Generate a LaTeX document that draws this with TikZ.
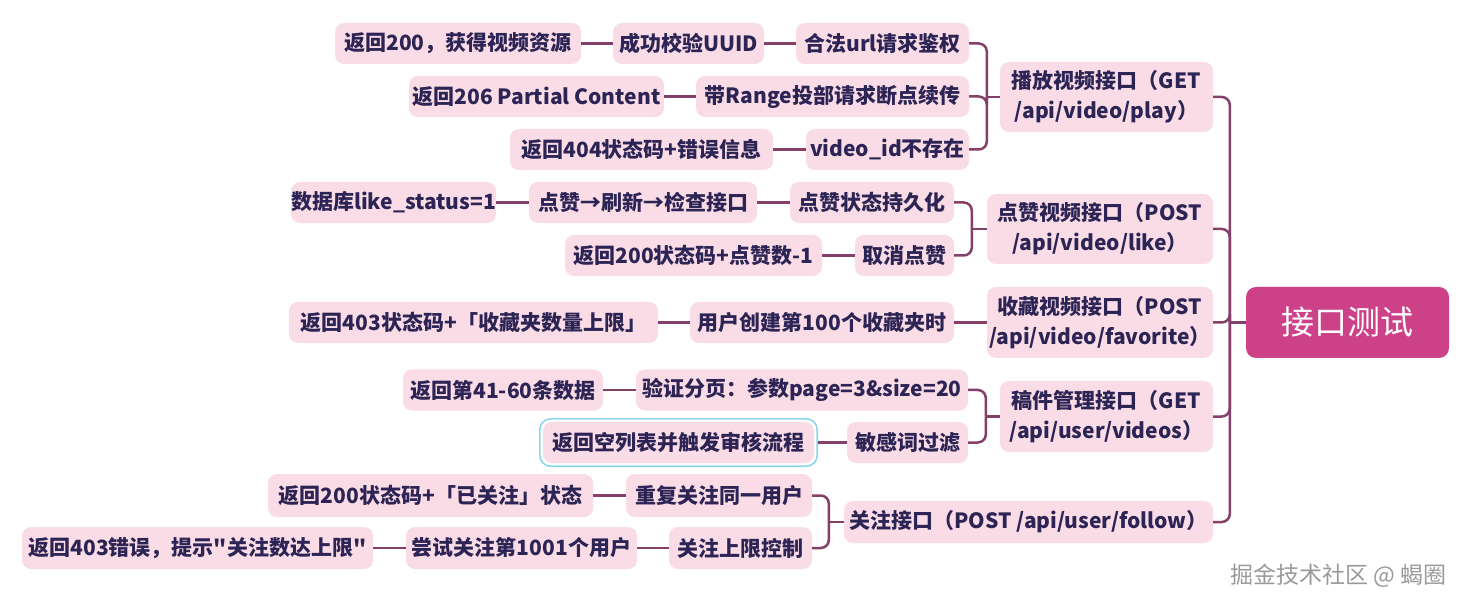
\documentclass[tikz,border=0pt]{standalone}
\usepackage{fontspec}
\setmainfont{Noto Sans CJK SC}
\newfontfamily\plainq{Noto Sans CJK SC}
\newcommand{\sq}{{\plainq\char"22}}
\usetikzlibrary{fit}
\definecolor{nodepink}{HTML}{FADCE6}
\definecolor{navy}{HTML}{2B2454}
\definecolor{rootpink}{HTML}{CD4189}
\definecolor{linec}{HTML}{85406A}
\definecolor{hlblue}{HTML}{8ED6EE}
\definecolor{wmgray}{HTML}{9A9A9A}
\tikzset{
  leaf/.style={rectangle, rounded corners=9pt, fill=nodepink, text=navy,
    font=\fontsize{21pt}{30pt}\selectfont\bfseries, inner sep=0pt,
    minimum height=41pt, align=center},
  topic/.style={leaf, minimum height=70pt},
  rootbox/.style={rectangle, rounded corners=10pt, fill=rootpink, text=white,
    font=\fontsize{33pt}{36pt}\selectfont, inner sep=0pt,
    minimum width=203pt, minimum height=71pt},
  conn/.style={draw=linec, line width=2.5pt, rounded corners=8pt},
  hlbox/.style={draw=hlblue, line width=1.6pt, rounded corners=11pt, inner sep=3pt},
  wmark/.style={text=wmgray, font=\fontsize{23pt}{26pt}\selectfont, inner sep=0pt}
}
\begin{document}
\begin{tikzpicture}[x=1pt,y=-1pt]
\useasboundingbox[fill=white] (0,0) rectangle (1475,609);

% root
\node[rootbox] (root) at (1347.5,322.5) {接口测试};

% level 1
\node[topic, minimum width=213pt] (P1) at (1106.5,97) {播放视频接口（GET\\/api/video/play）};
\node[topic, minimum width=226pt] (P2) at (1100,229) {点赞视频接口（POST\\/api/video/like）};
\node[topic, minimum width=226pt, minimum height=71pt] (P3) at (1100,322.5) {收藏视频接口（POST\\/api/video/favorite）};
\node[topic, minimum width=213pt, minimum height=71pt] (P4) at (1106.5,416.5) {稿件管理接口（GET\\/api/user/videos）};
\node[leaf, minimum width=369pt, minimum height=42pt] (P5) at (1028.5,522) {关注接口（POST /api/user/follow）};

% play group
\node[leaf, minimum width=173pt] (a1) at (882.5,43.5) {合法url请求鉴权};
\node[leaf, minimum width=151pt] (a1a) at (688.5,43.5) {成功校验UUID};
\node[leaf, minimum width=246pt] (a1b) at (458,43.5) {返回200，获得视频资源};
\node[leaf, minimum width=273pt] (a2) at (832.5,96.5) {带Range投部请求断点续传};
\node[leaf, minimum width=255pt] (a2a) at (536.5,96.5) {返回206 Partial Content};
\node[leaf, minimum width=163pt] (a3) at (887.5,149.5) {video\_id不存在};
\node[leaf, minimum width=263pt] (a3a) at (641.5,149.5) {返回404状态码+错误信息};

% like group
\node[leaf, minimum width=164pt] (b1) at (872,202.5) {点赞状态持久化};
\node[leaf, minimum width=228pt] (b1a) at (643,202.5) {点赞→刷新→检查接口};
\node[leaf, minimum width=205pt] (b1b) at (393.5,202.5) {数据库like\_status=1};
\node[leaf, minimum width=99pt] (b2) at (904.5,255.5) {取消点赞};
\node[leaf, minimum width=257pt] (b2a) at (693.5,255.5) {返回200状态码+点赞数-1};

% favorite group
\node[leaf, minimum width=264pt] (c1) at (822,322.5) {用户创建第100个收藏夹时};
\node[leaf, minimum width=369pt] (c1a) at (473.5,322.5) {返回403状态码+「收藏夹数量上限」};

% manuscript group
\node[leaf, minimum width=332pt] (d1) at (802,390) {验证分页：参数page=3\&size=20};
\node[leaf, minimum width=200pt] (d1a) at (503,390) {返回第41-60条数据};
\node[leaf, minimum width=121pt] (d2) at (907.5,442.5) {敏感词过滤};
\node[leaf, minimum width=271pt] (d2a) at (678.5,442.5) {返回空列表并触发审核流程};
\node[hlbox, fit=(d2a)] (d2ahl) {};

% follow group
\node[leaf, minimum width=186pt, minimum height=43pt] (e1) at (719,495.5) {重复关注同一用户};
\node[leaf, minimum width=325pt, minimum height=43pt] (e1a) at (430.5,495.5) {返回200状态码+「已关注」状态};
\node[leaf, minimum width=143pt, minimum height=42pt] (e2) at (740.5,548) {关注上限控制};
\node[leaf, minimum width=231pt, minimum height=42pt] (e2a) at (521.5,548) {尝试关注第1001个用户};
\node[leaf, minimum width=351pt, minimum height=42pt] (e2b) at (197.5,548) {返回403错误，提示\sq 关注数达上限\sq};

% watermark
\node[wmark] (wm) at (1338.5,575.5) {掘金技术社区 @ 蝎圈};

% root trunk
\draw[conn] (root.west) -- ([xshift=-16pt]root.west);
\foreach \p in {P1,P2,P3,P4,P5}
  \draw[conn] ([xshift=-16pt]root.west) |- (\p.east);

% play brackets
\draw[conn] (P1.west) -- ([xshift=-13pt]P1.west);
\foreach \c in {a1,a2,a3}
  \draw[conn] ([xshift=-13pt]P1.west) |- (\c.east);
\draw[conn] (a1.west) -- (a1a.east);
\draw[conn] (a1a.west) -- (a1b.east);
\draw[conn] (a2.west) -- (a2a.east);
\draw[conn] (a3.west) -- (a3a.east);

% like brackets
\draw[conn] (P2.west) -- ([xshift=-15pt]P2.west);
\foreach \c in {b1,b2}
  \draw[conn] ([xshift=-15pt]P2.west) |- (\c.east);
\draw[conn] (b1.west) -- (b1a.east);
\draw[conn] (b1a.west) -- (b1b.east);
\draw[conn] (b2.west) -- (b2a.east);

% favorite
\draw[conn] (P3.west) -- (c1.east);
\draw[conn] (c1.west) -- (c1a.east);

% manuscript brackets
\draw[conn] (P4.west) -- ([xshift=-14pt]P4.west);
\foreach \c in {d1,d2}
  \draw[conn] ([xshift=-14pt]P4.west) |- (\c.east);
\draw[conn] (d1.west) -- (d1a.east);
\draw[conn] (d2.west) -- (d2ahl.east);

% follow brackets
\draw[conn] (P5.west) -- ([xshift=-15pt]P5.west);
\foreach \c in {e1,e2}
  \draw[conn] ([xshift=-15pt]P5.west) |- (\c.east);
\draw[conn] (e1.west) -- (e1a.east);
\draw[conn] (e2.west) -- (e2a.east);
\draw[conn] (e2a.west) -- (e2b.east);
\end{tikzpicture}
\end{document}
